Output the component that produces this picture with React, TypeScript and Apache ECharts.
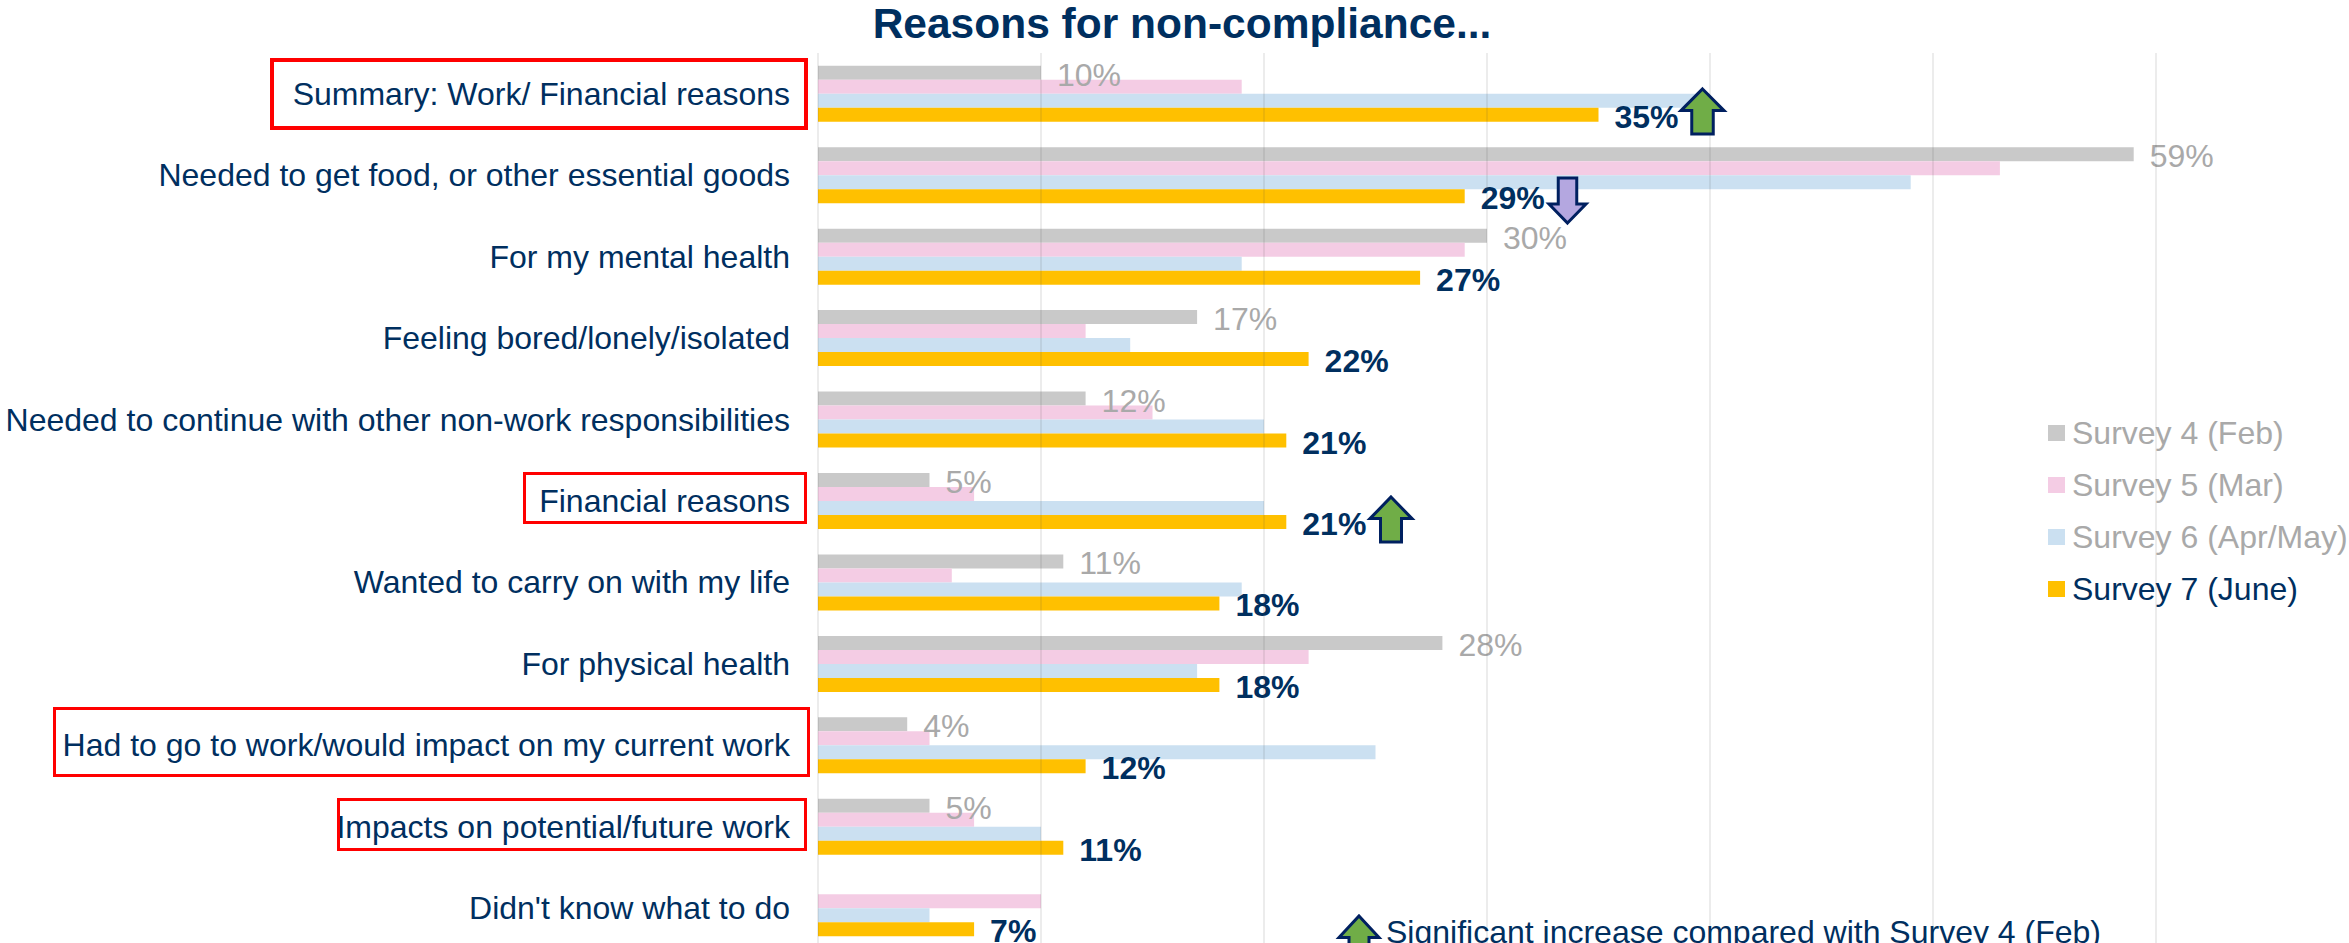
import React, { useEffect, useRef } from "react";
import * as echarts from "echarts";

const categories = [
  "Summary: Work/ Financial reasons",
  "Needed to get food, or other essential goods",
  "For my mental health",
  "Feeling bored/lonely/isolated",
  "Needed to continue with other non-work responsibilities",
  "Financial reasons",
  "Wanted to carry on with my life",
  "For physical health",
  "Had to go to work/would impact on my current work",
  "Impacts on potential/future work",
  "Didn't know what to do",
];
const survey4 = [10, 59, 30, 17, 12, 5, 11, 28, 4, 5, null];
const survey5 = [19, 53, 29, 12, 15, 7, 6, 22, 5, 7, 10];
const survey6 = [40, 49, 19, 14, 20, 20, 19, 17, 25, 10, 5];
const survey7 = [35, 29, 27, 22, 21, 21, 18, 18, 12, 11, 7];
const seriesNames = ["Survey 4 (Feb)", "Survey 5 (Mar)", "Survey 6 (Apr/May)", "Survey 7 (June)"];
const titleText = "Reasons for non-compliance...";
const noteText = "Significant increase compared with Survey 4 (Feb)";

const NAVY = "#002F5F";
const GREY_TXT = "#A9A9A9";
const FONT = "'Liberation Sans', Arial, sans-serif";

const arrowUp = (x: number, y: number, w: number, h: number) => ({
  type: "polygon",
  shape: {
    points: [
      [x + w / 2, y],
      [x + w, y + h * 0.48],
      [x + w * 0.75, y + h * 0.48],
      [x + w * 0.75, y + h],
      [x + w * 0.25, y + h],
      [x + w * 0.25, y + h * 0.48],
      [x, y + h * 0.48],
    ],
  },
  style: { fill: "#70AD47", stroke: "#002060", lineWidth: 3 },
  z: 20,
});
const arrowDown = (x: number, y: number, w: number, h: number) => ({
  type: "polygon",
  shape: {
    points: [
      [x + w / 2, y + h],
      [x + w, y + h * 0.58],
      [x + w * 0.75, y + h * 0.58],
      [x + w * 0.75, y],
      [x + w * 0.25, y],
      [x + w * 0.25, y + h * 0.58],
      [x, y + h * 0.58],
    ],
  },
  style: { fill: "#B4A7E0", stroke: "#002060", lineWidth: 3 },
  z: 20,
});
const redBox = (x: number, y: number, w: number, h: number, lw = 3) => ({
  type: "rect",
  shape: { x, y, width: w, height: h },
  style: { fill: "transparent", stroke: "#FF0000", lineWidth: lw },
  z: 20,
});

export default function App() {
  const ref = useRef<HTMLDivElement>(null);
  useEffect(() => {
    const chart = echarts.init(ref.current!, null, { renderer: "svg" });
    const bar = (name: string, data: (number | null)[], color: string, label?: any) => ({
      name,
      type: "bar",
      data,
      barWidth: 14,
      barGap: 0,
      itemStyle: { color },
      label: label ?? { show: false },
      z: 3,
    });
    chart.setOption({
      animation: false,
      backgroundColor: "#FFFFFF",
      title: {
        text: titleText,
        left: 1177,
        top: -3,
        textAlign: "center",
        textStyle: { color: NAVY, fontFamily: FONT, fontWeight: "bold", fontSize: 42.5 },
      },
      legend: {
        orient: "vertical",
        left: 2043,
        top: 412,
        itemWidth: 17,
        itemHeight: 16,
        itemGap: 20,
        icon: "rect",
        textStyle: { fontFamily: FONT, fontSize: 32, color: GREY_TXT, padding: [0, 0, 0, 2] },
        data: [
          { name: seriesNames[0] },
          { name: seriesNames[1] },
          { name: seriesNames[2] },
          { name: seriesNames[3], textStyle: { color: NAVY } },
        ],
      },
      grid: { left: 818, top: 53, width: 1338, height: 896, outerBoundsMode: "none" },
      xAxis: {
        type: "value",
        min: 0,
        max: 60,
        interval: 10,
        z: 5,
        axisLabel: { show: false },
        axisLine: { show: false },
        axisTick: { show: false },
        splitLine: { show: true, lineStyle: { color: "rgba(70,70,70,0.1)", width: 2 } },
      },
      yAxis: {
        type: "category",
        inverse: true,
        data: categories,
        axisLine: { show: false },
        axisTick: { show: false },
        axisLabel: { color: NAVY, fontFamily: FONT, fontSize: 32, margin: 28 },
      },
      series: [
        bar(seriesNames[0], survey4, "#C9C9C9", {
          show: true,
          position: "right",
          distance: 16,
          offset: [0, 2],
          formatter: "{c}%",
          color: GREY_TXT,
          fontFamily: FONT,
          fontSize: 32,
        }),
        bar(seriesNames[1], survey5, "#F4CCE4"),
        bar(seriesNames[2], survey6, "#CBE0F1"),
        bar(seriesNames[3], survey7, "#FFC000", {
          show: true,
          position: "right",
          distance: 16,
          offset: [0, 2],
          formatter: "{c}%",
          color: NAVY,
          fontFamily: FONT,
          fontSize: 32,
          fontWeight: "bold",
        }),
      ],
      graphic: [
        redBox(272, 60, 534, 68, 4),
        redBox(524.5, 473.5, 281, 49),
        redBox(54.5, 708.5, 754, 67),
        redBox(338.5, 799.5, 467, 50),
        arrowUp(1681, 89, 43, 45),
        arrowDown(1549, 178, 37, 45),
        arrowUp(1370, 497, 42, 45),
        arrowUp(1339, 916, 40, 45),
        {
          type: "text",
          x: 1386,
          y: 932,
          style: {
            text: noteText,
            fill: NAVY,
            font: `32px ${FONT}`,
            verticalAlign: "middle",
          },
          z: 20,
        },
      ],
    });
    return () => chart.dispose();
  }, []);
  return (
    <div
      ref={ref}
      style={{ position: "fixed", left: 0, top: 0, width: 2349, height: 943, overflow: "hidden" }}
    />
  );
}
